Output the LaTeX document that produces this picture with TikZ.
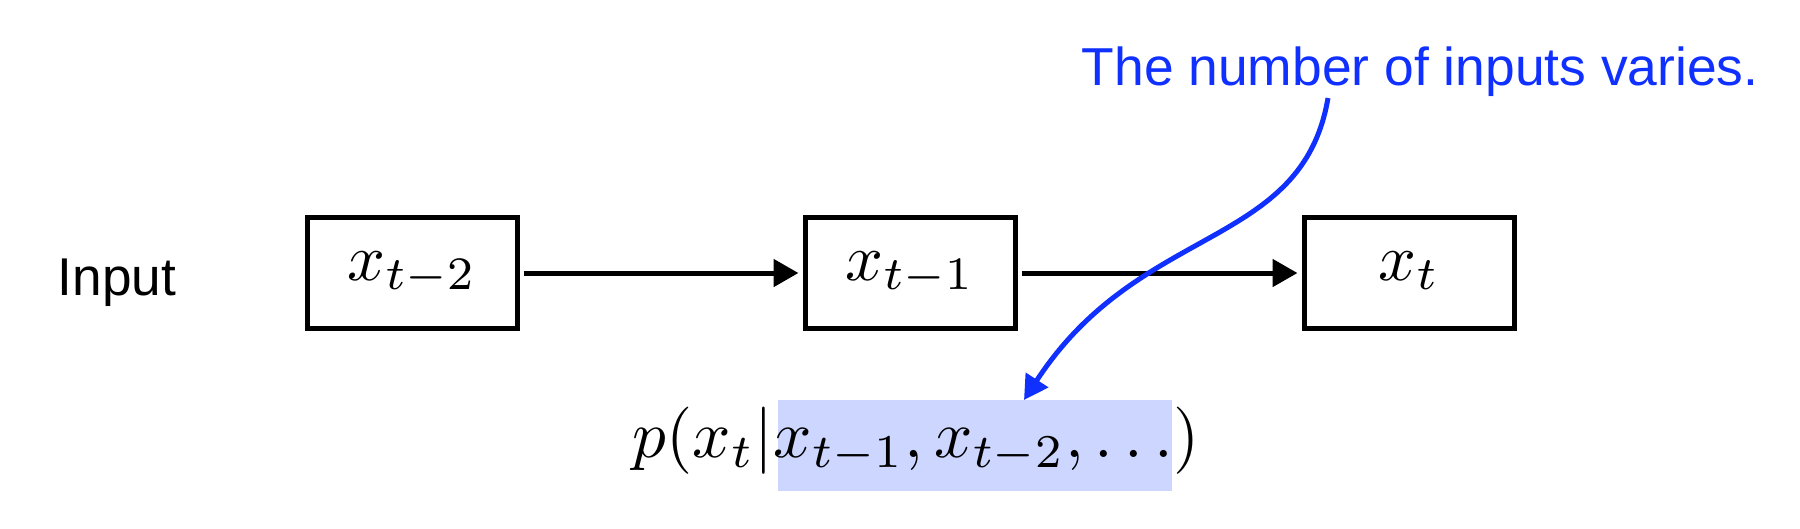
\documentclass[tikz,border=0pt]{standalone}
\usepackage{fontspec}
\setsansfont{Liberation Sans}
\usetikzlibrary{arrows.meta}
\definecolor{annblue}{RGB}{16,48,255}
\definecolor{hlblue}{RGB}{204,214,255}
\begin{document}
\begin{tikzpicture}[x=0.25pt,y=-0.25pt,
  box/.style={draw, line width=1.25pt, minimum width=52.5pt, minimum height=27.75pt,
    inner sep=0pt, text height=12.5pt, text depth=9pt},
  flow/.style={-{Triangle[length=6.25pt,width=6.75pt]}, line width=1.25pt,
    shorten <=1pt, shorten >=1pt},
  note/.style={text=annblue, font=\sffamily\fontsize{13.35}{16}\selectfont,
    inner sep=0pt, anchor=base west},
  label/.style={font=\sffamily\fontsize{13.3}{16}\selectfont, inner sep=0pt, anchor=base west},
  hilite/.style={fill=hlblue, minimum width=98.5pt, minimum height=22.75pt,
    inner sep=0pt, outer sep=0pt},
  annarrow/.style={draw=annblue, line width=1.25pt, -{Triangle[length=6pt,width=6.5pt]}}
  ]
\useasboundingbox (0,0) rectangle (1800,528);

\node[box] (b1) at (412,273) {\scalebox{1.66}{$x_{t-2}$}};
\node[box] (b2) at (910,273) {\scalebox{1.66}{$x_{t-1}$}};
\node[box] (b3) at (1409,273) {\scalebox{1.66}{$x_t$}};
\node[label] (in) at (57,295) {Input};

\draw[flow] (b1) -- (b2);
\draw[flow] (b2) -- (b3);

\node[hilite] (hl) at (975,445.5) {};
\node[anchor=base west, inner sep=0pt] (f) at (632,457)
  {\scalebox{1.68}{$p(x_t|x_{t-1},x_{t-2},\ldots)$}};

\node[note] (nt) at (1081,85) {The number of inputs varies.};
\coordinate (c0) at (1328,98);
\coordinate (tip) at ([xshift=12.25pt]hl.north);
\draw[annarrow] (c0) .. controls (1302,250) and (1140,222) .. (tip);
\end{tikzpicture}
\end{document}
